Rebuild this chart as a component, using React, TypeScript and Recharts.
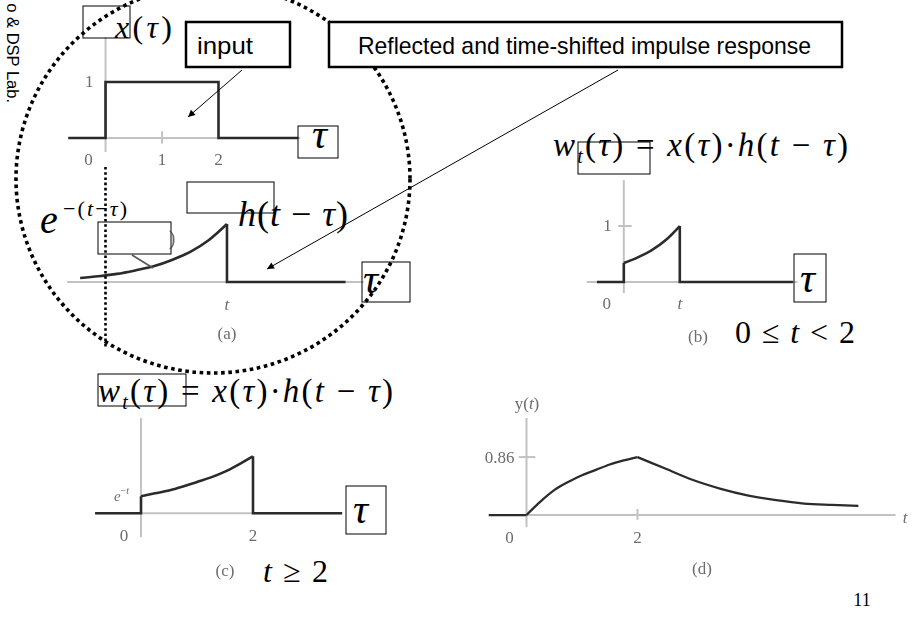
import React from 'react';
import { ComposedChart, Line, Scatter, XAxis, YAxis, ReferenceLine } from 'recharts';

type Pt = { x: number; y: number };
type Tick = { x: number; y: number; text: string };

// (a) upper panel: rectangular input pulse x(τ)
const pulseX: Pt[] = [
  { x: -0.66, y: 0 }, { x: 0, y: 0 }, { x: 0, y: 1 }, { x: 2, y: 1 }, { x: 2, y: 0 }, { x: 3.41, y: 0 },
];
const pulseTicks: Tick[] = [
  { x: 0, y: 0, text: '0' }, { x: 1, y: 0, text: '1' }, { x: 2, y: 0, text: '2' }, { x: 0, y: 1, text: '1' },
];

// (a) lower panel: reflected, shifted impulse response h(t − τ) for t ≈ 2.15
const hCurve: Pt[] = [
  { x: -0.45, y: 0.07 }, { x: -0.125, y: 0.1 }, { x: 0.2, y: 0.14 }, { x: 0.525, y: 0.2 },
  { x: 0.85, y: 0.27 }, { x: 1.175, y: 0.38 }, { x: 1.5, y: 0.52 }, { x: 1.825, y: 0.72 }, { x: 2.15, y: 1 },
];
const hTail: Pt[] = [{ x: 2.15, y: 1 }, { x: 2.15, y: 0 }, { x: 4.25, y: 0 }];
const hTicks: Tick[] = [{ x: 2.15, y: 0, text: 't' }];

// (b) product w_t(τ) for 0 ≤ t < 2
const wbEdge: Pt[] = [{ x: -0.48, y: 0 }, { x: 0, y: 0 }, { x: 0, y: 0.34 }];
const wbCurve: Pt[] = [
  { x: 0, y: 0.34 }, { x: 0.25, y: 0.44 }, { x: 0.5, y: 0.57 }, { x: 0.75, y: 0.75 }, { x: 1, y: 1 },
];
const wbTail: Pt[] = [{ x: 1, y: 1 }, { x: 1, y: 0 }, { x: 3.02, y: 0 }];
const wbTicks: Tick[] = [{ x: 0, y: 0, text: '0' }, { x: 1, y: 0, text: 't' }, { x: 0, y: 1, text: '1' }];

// (c) product w_t(τ) for t ≥ 2
const wcEdge: Pt[] = [{ x: -0.82, y: 0 }, { x: 0, y: 0 }, { x: 0, y: 0.3 }];
const wcCurve: Pt[] = [
  { x: 0, y: 0.3 }, { x: 0.25, y: 0.35 }, { x: 0.5, y: 0.4 }, { x: 0.75, y: 0.47 }, { x: 1, y: 0.55 },
  { x: 1.25, y: 0.63 }, { x: 1.5, y: 0.73 }, { x: 1.75, y: 0.86 }, { x: 2, y: 1 },
];
const wcTail: Pt[] = [{ x: 2, y: 1 }, { x: 2, y: 0 }, { x: 3.59, y: 0 }];
const wcTicks: Tick[] = [{ x: 0, y: 0, text: '0' }, { x: 2, y: 0, text: '2' }, { x: 0, y: 0.3, text: 'e^-t' }];

// (d) output y(t)
const yFlat: Pt[] = [{ x: -0.68, y: 0 }, { x: 0, y: 0 }];
const yRise: Pt[] = [
  { x: 0, y: 0 }, { x: 0.25, y: 0.2 }, { x: 0.5, y: 0.37 }, { x: 0.75, y: 0.49 }, { x: 1, y: 0.59 },
  { x: 1.25, y: 0.67 }, { x: 1.5, y: 0.75 }, { x: 1.75, y: 0.81 }, { x: 2, y: 0.86 },
];
const yDecay: Pt[] = [
  { x: 2, y: 0.86 }, { x: 2.5, y: 0.69 }, { x: 3, y: 0.52 }, { x: 3.5, y: 0.39 }, { x: 4, y: 0.29 },
  { x: 4.5, y: 0.22 }, { x: 5, y: 0.17 }, { x: 5.5, y: 0.15 }, { x: 5.98, y: 0.135 },
];
const yTicks: Tick[] = [{ x: 0, y: 0, text: '0' }, { x: 2, y: 0, text: '2' }, { x: 0, y: 0.86, text: '0.86' }];

const SERIF = '"Liberation Serif", "Times New Roman", serif';
const SANS = '"Liberation Sans", Arial, sans-serif';
const AXIS_GRAY = '#c2c2c2';
const TICK_GRAY = '#6c6c6c';
const CURVE = '#2b2b2b';

// Tick labels: on the vertical axis they sit to the left, elsewhere below the axis.
function renderTick(props: any) {
  const { cx, cy, payload } = props;
  const p = payload as Tick;
  const onVertical = p.x === 0 && p.y !== 0;
  const atOrigin = p.x === 0 && p.y === 0;
  const x = onVertical ? cx - 12 : atOrigin ? cx - 17 : cx;
  const y = onVertical ? cy : cy + 22;
  const anchor = onVertical ? 'end' : 'middle';
  const italic = /^[a-z]$/.test(p.text);
  if (p.text.includes('^')) {
    const [base, sup] = p.text.split('^');
    return (
      <text x={x} y={y} textAnchor={anchor} dominantBaseline="central" fill={TICK_GRAY}
        fontFamily={SERIF} fontSize={15} fontStyle="italic">
        {base}
        <tspan dy={-6} fontSize={10} fontStyle="normal">{'\u2212'}</tspan>
        <tspan fontSize={10} fontStyle="italic">{sup.replace('-', '')}</tspan>
      </text>
    );
  }
  return (
    <text x={x} y={y} textAnchor={anchor} dominantBaseline="central" fill={TICK_GRAY}
      fontFamily={SERIF} fontSize={17} fontStyle={italic ? 'italic' : 'normal'}>
      {p.text}
    </text>
  );
}

type Seg = [Pt, Pt];

function axisSeg(seg: Seg, key: string) {
  return (
    <ReferenceLine key={key} segment={seg} stroke={AXIS_GRAY} strokeWidth={2} ifOverflow="visible" />
  );
}

function curve(data: Pt[], key: string, type: 'linear' | 'monotone', width = 2.6) {
  return (
    <Line key={key} data={data} dataKey="y" type={type} stroke={CURVE} strokeWidth={width}
      dot={false} activeDot={false} isAnimationActive={false} strokeLinejoin="miter" />
  );
}

function ticks(data: Tick[]) {
  return <Scatter key="ticks" data={data} dataKey="y" shape={renderTick} isAnimationActive={false} />;
}

type PanelProps = {
  left: number; top: number; width: number; height: number;
  xDomain: [number, number]; yDomain: [number, number];
  children: React.ReactNode;
};

function Panel({ left, top, width, height, xDomain, yDomain, children }: PanelProps) {
  return (
    <div style={{ position: 'absolute', left, top, width, height, filter: 'blur(0.6px)' }}>
      <ComposedChart width={width} height={height} margin={{ top: 0, right: 0, bottom: 0, left: 0 }}
        style={{ overflow: 'visible' }}>
        <XAxis type="number" dataKey="x" domain={xDomain} hide />
        <YAxis type="number" dataKey="y" domain={yDomain} hide />
        {children}
      </ComposedChart>
    </div>
  );
}

const it = { fontStyle: 'italic' as const };

export default function App() {
  return (
    <div style={{ position: 'absolute', left: 0, top: 0, width: 924, height: 642, background: '#fff', overflow: 'hidden' }}>
      {/* (a) upper: x(τ) */}
      <Panel left={66} top={26} width={305} height={156.8} xDomain={[-0.7, 4.7]} yDomain={[-0.8, 2.0]}>
        {[
          axisSeg([{ x: -0.66, y: 0 }, { x: 3.45, y: 0 }], 'h'),
          axisSeg([{ x: 0, y: -0.25 }, { x: 0, y: 1.8 }], 'v'),
          axisSeg([{ x: 1, y: -0.1 }, { x: 1, y: 0.12 }], 't1'),
          curve(pulseX, 'pulse', 'linear'),
          ticks(pulseTicks),
        ]}
      </Panel>

      {/* (a) lower: h(t − τ) */}
      <Panel left={66} top={195} width={305} height={145} xDomain={[-0.7, 4.7]} yDomain={[-1, 1.5]}>
        {[
          axisSeg([{ x: -0.68, y: 0 }, { x: 4.57, y: 0 }], 'h'),
          curve(hCurve, 'exp', 'monotone'),
          curve(hTail, 'tail', 'linear'),
          ticks(hTicks),
        ]}
      </Panel>

      {/* (b) */}
      <Panel left={579.2} top={170} width={224} height={179.2} xDomain={[-0.8, 3.2]} yDomain={[-1.2, 2.0]}>
        {[
          axisSeg([{ x: -0.66, y: 0 }, { x: 3.1, y: 0 }], 'h'),
          axisSeg([{ x: 0, y: -0.2 }, { x: 0, y: 1.82 }], 'v'),
          axisSeg([{ x: -0.1, y: 1 }, { x: 0.14, y: 1 }], 't1'),
          curve(wbEdge, 'edge', 'linear'),
          curve(wbCurve, 'exp', 'monotone'),
          curve(wbTail, 'tail', 'linear'),
          ticks(wbTicks),
        ]}
      </Panel>

      {/* (c) */}
      <Panel left={85} top={404.7} width={280} height={176.7} xDomain={[-1, 4]} yDomain={[-1.2, 1.9]}>
        {[
          axisSeg([{ x: -0.82, y: 0 }, { x: 3.6, y: 0 }], 'h'),
          axisSeg([{ x: 0, y: -0.42 }, { x: 0, y: 1.67 }], 'v'),
          curve(wcEdge, 'edge', 'linear'),
          curve(wcCurve, 'exp', 'monotone'),
          curve(wcTail, 'tail', 'linear'),
          ticks(wcTicks),
        ]}
      </Panel>

      {/* (d) */}
      <Panel left={470.5} top={386.9} width={471.75} height={195.46} xDomain={[-1, 7.5]} yDomain={[-1, 1.9]}>
        {[
          axisSeg([{ x: -0.68, y: 0 }, { x: 6.65, y: 0 }], 'h'),
          axisSeg([{ x: 0, y: -0.18 }, { x: 0, y: 1.44 }], 'v'),
          axisSeg([{ x: -0.14, y: 0.86 }, { x: 0.16, y: 0.86 }], 't086'),
          axisSeg([{ x: 2, y: -0.07 }, { x: 2, y: 0.09 }], 't2'),
          curve(yFlat, 'flat', 'linear', 2.3),
          curve(yRise, 'rise', 'monotone', 2.3),
          curve(yDecay, 'decay', 'monotone', 2.3),
          ticks(yTicks),
        ]}
      </Panel>

      {/* soft captions and axis names of the figure panels */}
      <svg width={924} height={642} style={{ position: 'absolute', left: 0, top: 0, filter: 'blur(0.6px)' }}>
        <g fill={TICK_GRAY} fontFamily={SERIF} fontSize={17} textAnchor="middle" dominantBaseline="central">
          <text x={227} y={333}>(a)</text>
          <text x={698} y={336}>(b)</text>
          <text x={225} y={570}>(c)</text>
          <text x={702} y={568}>(d)</text>
          <text x={527} y={403}>y(<tspan {...it}>t</tspan>)</text>
          <text x={905} y={517} {...it}>t</text>
          <text x={172} y={238} fontSize={20}>)</text>
        </g>
        <line x1={132} y1={255} x2={153} y2={268} stroke="#555" strokeWidth={1.5} />
      </svg>

      {/* slide annotations */}
      <svg width={924} height={642} style={{ position: 'absolute', left: 0, top: 0 }}>
        <defs>
          <marker id="head" viewBox="0 0 10 10" refX={10} refY={5} markerWidth={9} markerHeight={7}
            markerUnits="userSpaceOnUse" orient="auto">
            <path d="M0,0 L10,5 L0,10 z" fill="#000" />
          </marker>
        </defs>

        <text transform="translate(7,103) rotate(90)" textAnchor="end" fontFamily={SANS} fontSize={16.5} fill="#000">
          o &amp; DSP Lab.
        </text>

        <ellipse cx={213} cy={179} rx={197} ry={194} fill="none" stroke="#000" strokeWidth={3.6} strokeDasharray="3.6 3.6" />
        <line x1={105.5} y1={167} x2={105.5} y2={348} stroke="#000" strokeWidth={2.6} strokeDasharray="2.6 2.6" />

        <g fill="none" stroke="#000" strokeWidth={1}>
          <rect x={83} y={6} width={47} height={32} />
          <rect x={187} y={182} width={87} height={31} />
          <rect x={98} y={222} width={73} height={32} />
          <rect x={298} y={126} width={40} height={32} />
          <rect x={362} y={262} width={48} height={40} />
          <rect x={794} y={254} width={32} height={48} />
          <rect x={346} y={486} width={40} height={48} />
          <rect x={578} y={142} width={72} height={32} />
          <rect x={98} y={374} width={88} height={32} />
        </g>
        <g fill="#fff" stroke="#000" strokeWidth={2.5}>
          <rect x={186} y={22} width={104} height={45} />
          <rect x={329} y={22} width={513} height={45} />
        </g>

        <g fontFamily={SANS} fill="#000">
          <text x={197} y={54} fontSize={24} textLength={56} lengthAdjust="spacingAndGlyphs">input</text>
          <text x={358} y={54} fontSize={24} textLength={453} lengthAdjust="spacingAndGlyphs">
            Reflected and time-shifted impulse response
          </text>
        </g>

        <line x1={242} y1={70} x2={188} y2={117} stroke="#000" strokeWidth={1} markerEnd="url(#head)" />
        <line x1={618} y1={70} x2={267} y2={269} stroke="#000" strokeWidth={1} markerEnd="url(#head)" />

        <g fontFamily={SERIF} fill="#000">
          <text x={115} y={38} fontSize={32} textLength={57} lengthAdjust="spacing">
            <tspan {...it}>x</tspan>(<tspan {...it}>τ</tspan>)
          </text>
          <text x={238} y={226} fontSize={36} textLength={110} lengthAdjust="spacing">
            <tspan {...it}>h</tspan>(<tspan {...it}>t</tspan> − <tspan {...it}>τ</tspan>)
          </text>
          <text x={40} y={233} fontSize={40} {...it}>e</text>
          <text x={63} y={216} fontSize={22} textLength={64} lengthAdjust="spacing">
            −(<tspan {...it}>t</tspan>−<tspan {...it}>τ</tspan>)
          </text>

          <text x={553} y={156} fontSize={33} textLength={295} lengthAdjust="spacing">
            <tspan {...it}>w</tspan><tspan {...it} fontSize={20} dy={7}>t</tspan><tspan dy={-7}>(</tspan><tspan {...it}>τ</tspan>) = <tspan {...it}>x</tspan>(<tspan {...it}>τ</tspan>)·<tspan {...it}>h</tspan>(<tspan {...it}>t</tspan> − <tspan {...it}>τ</tspan>)
          </text>
          <text x={98} y={402} fontSize={33} textLength={295} lengthAdjust="spacing">
            <tspan {...it}>w</tspan><tspan {...it} fontSize={20} dy={7}>t</tspan><tspan dy={-7}>(</tspan><tspan {...it}>τ</tspan>) = <tspan {...it}>x</tspan>(<tspan {...it}>τ</tspan>)·<tspan {...it}>h</tspan>(<tspan {...it}>t</tspan> − <tspan {...it}>τ</tspan>)
          </text>

          <text x={735} y={343} fontSize={32} textLength={120} lengthAdjust="spacing">
            0 ≤ <tspan {...it}>t</tspan> &lt; 2
          </text>
          <text x={263} y={582} fontSize={32} textLength={65} lengthAdjust="spacing">
            <tspan {...it}>t</tspan> ≥ 2
          </text>

          <g fontSize={42} {...it}>
            <text x={312} y={148}>τ</text>
            <text x={363} y={293}>τ</text>
            <text x={800} y={292}>τ</text>
            <text x={353} y={523}>τ</text>
          </g>

          <text x={862} y={606} fontSize={18} textAnchor="middle">11</text>
        </g>
      </svg>
    </div>
  );
}
